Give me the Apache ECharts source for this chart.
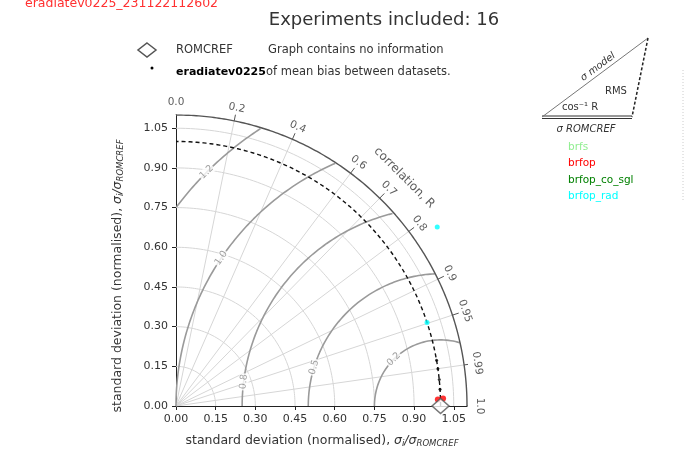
<!DOCTYPE html>
<html><head><meta charset="utf-8">
<script src="https://cdn.jsdelivr.net/npm/echarts@6/dist/echarts.min.js"></script>
<style>html,body{margin:0;padding:0;background:#fff}#c{width:689px;height:450px}</style>
</head><body><div id="c"></div>
<script>
// Taylor diagram: normalised standard deviation vs correlation against ROMCREF
const stdTicks = [0, 0.15, 0.30, 0.45, 0.60, 0.75, 0.90, 1.05];
const stdMax = 1.1;
const refStd = 1.0;
const corrTicks = [0.0, 0.2, 0.4, 0.6, 0.7, 0.8, 0.9, 0.95, 0.99, 1.0];
const rmsLevels = [0.25, 0.5, 0.75, 1.0, 1.25];
const rmsLabels = ['0.2', '0.5', '0.8', '1.0', '1.2'];
const rmsLabelAngles = [135, 163, 173, 146, 135];

const expNames = ['brfs', 'brfop', 'brfop_co_sgl', 'brfop_rad'];
const expColors = ['#90ee90', '#ff0000', '#008000', '#00ffff'];
const brfsStd = [];
const brfsCorr = [];
const brfopStd = [0.99, 1.01];
const brfopCorr = [0.9997, 0.9996];
const brfopCoSglStd = [];
const brfopCoSglCorr = [];
const brfopRadStd = [1.0, 1.197];
const brfopRadCorr = [0.949, 0.825];
const baseStd = [1.0, 1.0, 1.0, 1.0];
const baseCorr = [0.998, 0.995, 0.99, 0.985];

const FONT = 'DejaVu Sans';

function pol(r, c) {
  const t = Math.acos(Math.max(-1, Math.min(1, c)));
  return [r * Math.cos(t), r * Math.sin(t)];
}
function arc(r, n) {
  const pts = [];
  for (let i = 0; i <= n; i++) {
    const t = Math.PI / 2 * i / n;
    pts.push([r * Math.cos(t), r * Math.sin(t)]);
  }
  return pts;
}
function rmsCurve(r) {
  const pts = [];
  for (let i = 0; i <= 360; i++) {
    const p = Math.PI * i / 360;
    const x = refStd + r * Math.cos(p), y = r * Math.sin(p);
    if (x >= 0 && y >= 0 && x * x + y * y <= stdMax * stdMax) pts.push([x, y]);
    else pts.push([null, null]);
  }
  return pts;
}
function lineSeries(data, color, width, type, z) {
  return {
    type: 'line', data: data, showSymbol: false, silent: true, z: z || 2,
    lineStyle: { color: color, width: width, type: type || 'solid' },
    connectNulls: false, animation: false
  };
}

const series = [];
// standard-deviation grid arcs
stdTicks.filter(v => v > 0).forEach(v => series.push(lineSeries(arc(v, 90), '#d6d6d6', 1)));
// correlation rays
corrTicks.filter(c => c > 0 && c < 1).forEach(c => series.push(lineSeries([[0, 0], pol(stdMax, c)], '#d6d6d6', 1)));
// centred RMS difference contours
rmsLevels.forEach(r => series.push(lineSeries(rmsCurve(r), '#9a9a9a', 1.6, 'solid', 3)));
// outer boundary
series.push(lineSeries(arc(stdMax, 180), '#555', 1.4, 'solid', 4));
// reference standard deviation
series.push(lineSeries(arc(refStd, 180), '#111', 1.4, [4, 3], 5));
// correlation ticks on the boundary
corrTicks.forEach(c => series.push(lineSeries([pol(stdMax, c), pol(stdMax + 0.025, c)], '#555', 1, 'solid', 4)));

// correlation tick labels
series.push({
  type: 'scatter', symbolSize: 0, clip: false, silent: true, z: 6, animation: false,
  data: corrTicks.map(c => ({
    value: pol(stdMax + 0.05, c),
    label: {
      show: true, formatter: String(c === 0 ? '0.0' : c === 1 ? '1.0' : c),
      rotate: Math.acos(c) * 180 / Math.PI - 90, position: 'inside',
      fontFamily: FONT, fontSize: 10.5, color: '#333'
    }
  }))
});
series.push({
  type: 'scatter', symbolSize: 0, clip: false, silent: true, z: 6, animation: false,
  data: [{
    value: pol(1.22, Math.cos(Math.PI / 4)),
    label: { show: true, formatter: 'correlation, R', rotate: -45, position: 'inside',
      fontFamily: FONT, fontSize: 12, color: '#333' }
  }]
});
// RMS contour labels
series.push({
  type: 'scatter', symbolSize: 0, clip: false, silent: true, z: 7, animation: false,
  data: rmsLevels.map((r, i) => {
    const p = rmsLabelAngles[i] * Math.PI / 180;
    return {
      value: [refStd + r * Math.cos(p), r * Math.sin(p)],
      label: { show: true, formatter: rmsLabels[i], rotate: rmsLabelAngles[i] - 90, position: 'inside',
        fontFamily: FONT, fontSize: 9.5, color: '#888', backgroundColor: '#fff', padding: [0, 1] }
    };
  })
});

// experiments
function expSeries(stds, corrs, color, size, z) {
  return {
    type: 'scatter', symbol: 'circle', symbolSize: size, clip: false, silent: true, z: z, animation: false,
    itemStyle: { color: color },
    data: stds.map((s, i) => pol(s, corrs[i]))
  };
}
series.push(expSeries(baseStd, baseCorr, '#000', 3, 8));
series.push(expSeries(brfsStd, brfsCorr, expColors[0], 6, 9));
series.push(expSeries(brfopStd, brfopCorr, expColors[1], 6, 9));
series.push(expSeries(brfopCoSglStd, brfopCoSglCorr, expColors[2], 6, 9));
series.push(expSeries(brfopRadStd, brfopRadCorr, expColors[3], 5, 9));
// reference point
series.push({
  type: 'scatter', symbol: 'diamond', symbolSize: [17, 15], clip: false, silent: true, z: 10, animation: false,
  itemStyle: { color: '#fff', borderColor: '#555', borderWidth: 1.5 },
  data: [[refStd, 0]]
});

const axisCommon = {
  type: 'value', min: 0, max: stdMax,
  axisLine: { show: true, lineStyle: { color: '#222', width: 1 } },
  axisTick: { show: true, customValues: stdTicks, length: 4, lineStyle: { color: '#222' } },
  axisLabel: { customValues: stdTicks, formatter: v => v.toFixed(2), fontFamily: FONT, fontSize: 11, color: '#333' },
  splitLine: { show: false }
};

const txt = (x, y, text, opt) => ({
  type: 'text', x: x, y: y, z: 20, rotation: (opt && opt.rot) || 0,
  style: Object.assign({ text: text, fontFamily: FONT, fontSize: 10, fill: '#333',
    textAlign: 'left', textVerticalAlign: 'middle' }, opt || {})
});

const axisTitle = '{a|standard deviation (normalised), }{i|σ}{s|i}{i|/σ}{s|ROMCREF}';
const axisTitleRich = {
  a: { fontFamily: FONT, fontSize: 12.5, fill: '#333' },
  i: { fontFamily: FONT, fontSize: 12.5, fontStyle: 'italic', fill: '#333' },
  s: { fontFamily: FONT, fontSize: 8.5, fontStyle: 'italic', fill: '#333', padding: [5, 0, 0, 0] }
};

const graphic = [
  txt(25, 4, 'eradiatev0225_231122112602', { fill: '#ff3030', fontSize: 12.5 }),
  txt(384, 20, 'Experiments included: 16', { fontSize: 18, textAlign: 'center', fill: '#333' }),
  { type: 'polygon', z: 20, shape: { points: [[147, 43], [156, 50], [147, 57], [138, 50]] },
    style: { fill: '#fff', stroke: '#555', lineWidth: 1.5 } },
  { type: 'circle', z: 20, shape: { cx: 152, cy: 68, r: 1.5 }, style: { fill: '#000' } },
  txt(176, 50, 'ROMCREF', { fontSize: 11.5 }),
  txt(268, 50, 'Graph contains no information', { fontSize: 11.5 }),
  txt(266, 72, 'of mean bias between datasets.', { fontSize: 11.5 }),
  txt(176, 72, 'eradiatev0225', { fontSize: 11, fontWeight: 'bold', fill: '#000' }),
  // explanatory triangle
  { type: 'line', z: 20, shape: { x1: 542, y1: 116, x2: 632, y2: 116 }, style: { stroke: '#333', lineWidth: 1 } },
  { type: 'line', z: 20, shape: { x1: 542, y1: 118.5, x2: 632, y2: 118.5 }, style: { stroke: '#333', lineWidth: 1 } },
  { type: 'line', z: 20, shape: { x1: 542, y1: 117, x2: 648, y2: 38 }, style: { stroke: '#777', lineWidth: 1 } },
  { type: 'line', z: 20, shape: { x1: 648, y1: 38, x2: 632, y2: 117 }, style: { stroke: '#222', lineWidth: 1.5, lineDash: [3, 2] } },
  txt(598, 67, 'σ model', { fontSize: 10, textAlign: 'center', fontStyle: 'italic', rot: 36.7 * Math.PI / 180 }),
  txt(616, 91, 'RMS', { fontSize: 10, textAlign: 'center' }),
  txt(580, 107, 'cos⁻¹ R', { fontSize: 10, textAlign: 'center' }),
  txt(586, 129, 'σ ROMCREF', { fontSize: 10, textAlign: 'center', fontStyle: 'italic' }),
  { type: 'line', z: 20, shape: { x1: 683, y1: 70, x2: 683, y2: 200 }, style: { stroke: '#ccc', lineWidth: 1, lineDash: [1, 2] } },
  // axis titles
  { type: 'text', z: 20, x: 322, y: 441, style: {
      text: axisTitle, textAlign: 'center', textVerticalAlign: 'middle', rich: axisTitleRich } },
  { type: 'text', z: 20, x: 118, y: 276, rotation: Math.PI / 2, style: {
      text: axisTitle, textAlign: 'center', textVerticalAlign: 'middle', rich: axisTitleRich } }
];
expNames.forEach((n, i) => graphic.push(txt(568, [147, 163, 180, 196][i], n, { fill: expColors[i], fontSize: 10.5 })));

const chart = echarts.init(document.getElementById('c'), null, { renderer: 'canvas' });
chart.setOption({
  animation: false,
  backgroundColor: '#fff',
  grid: { left: 176, top: 115, width: 291, height: 291 },
  xAxis: Object.assign({}, axisCommon),
  yAxis: Object.assign({}, axisCommon),
  series: series,
  graphic: graphic
});
</script>
</body></html>
